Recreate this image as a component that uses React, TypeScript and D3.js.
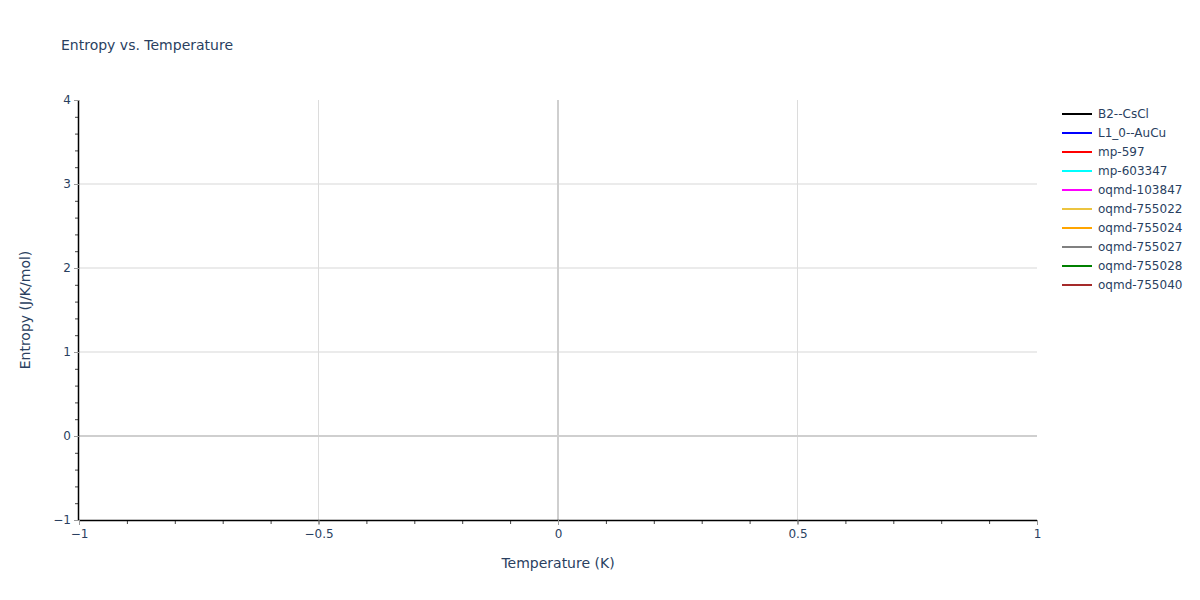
import * as d3 from "d3";
import React, { useEffect, useRef } from "react";

const seriesNames = [
  "B2--CsCl",
  "L1_0--AuCu",
  "mp-597",
  "mp-603347",
  "oqmd-103847",
  "oqmd-755022",
  "oqmd-755024",
  "oqmd-755027",
  "oqmd-755028",
  "oqmd-755040",
];
const seriesColors = [
  "black",
  "blue",
  "red",
  "cyan",
  "magenta",
  "#ecc440",
  "orange",
  "gray",
  "green",
  "brown",
];
// no points in any series: the chart is empty
const seriesPoints: [number, number][][] = seriesNames.map(() => []);

const xDomain: [number, number] = [-1, 1];
const yDomain: [number, number] = [-1, 4];
const xTicks = [-1, -0.5, 0, 0.5, 1];
const yTicks = [-1, 0, 1, 2, 3, 4];
const xMinor = d3.range(-10, 11).map((i) => i / 10);
const yMinor = d3.range(-5, 21).map((i) => i / 5);

const FONT = "'DejaVu Sans', verdana, sans-serif";
const TEXT = "#2a3f5f";

const App: React.FC = () => {
  const svgRef = useRef<SVGSVGElement>(null);
  const width = 1200;
  const height = 600;
  const margin = { top: 100, right: 163, bottom: 80, left: 79 };

  useEffect(() => {
    const svg = d3.select(svgRef.current);
    svg.selectAll("*").remove();

    const innerW = width - margin.left - margin.right;
    const innerH = height - margin.top - margin.bottom;

    const x = d3.scaleLinear().domain(xDomain).range([0, innerW]);
    const y = d3.scaleLinear().domain(yDomain).range([innerH, 0]);

    svg.append("rect").attr("width", width).attr("height", height).attr("fill", "white");

    const g = svg.append("g").attr("transform", `translate(${margin.left}, ${margin.top})`);

    // grid
    g.selectAll(".ygrid")
      .data(yTicks.filter((t) => t !== 0 && t !== yDomain[0] && t !== yDomain[1]))
      .enter()
      .append("line")
      .attr("x1", 0)
      .attr("x2", innerW)
      .attr("y1", (d) => y(d))
      .attr("y2", (d) => y(d))
      .attr("stroke", "#ebebeb")
      .attr("stroke-width", 2);

    g.selectAll(".xgrid")
      .data(xTicks.filter((t) => t !== 0 && t !== xDomain[0] && t !== xDomain[1]))
      .enter()
      .append("line")
      .attr("y1", 0)
      .attr("y2", innerH)
      .attr("x1", (d) => x(d))
      .attr("x2", (d) => x(d))
      .attr("stroke", "#dcdcdc")
      .attr("stroke-width", 1);

    // zero lines
    g.append("line")
      .attr("x1", 0)
      .attr("x2", innerW)
      .attr("y1", y(0))
      .attr("y2", y(0))
      .attr("stroke", "#cfcfcf")
      .attr("stroke-width", 2);
    g.append("line")
      .attr("y1", 0)
      .attr("y2", innerH)
      .attr("x1", x(0))
      .attr("x2", x(0))
      .attr("stroke", "#cfcfcf")
      .attr("stroke-width", 2);

    // series lines (empty)
    const line = d3
      .line<[number, number]>()
      .x((d) => x(d[0]))
      .y((d) => y(d[1]));
    seriesPoints.forEach((pts, i) => {
      if (pts.length === 0) return;
      g.append("path").attr("d", line(pts)).attr("fill", "none").attr("stroke", seriesColors[i]).attr("stroke-width", 2);
    });

    // minor ticks
    const xAxisMinor = d3.axisBottom(x).tickValues(xMinor).tickSize(4).tickFormat(() => "");
    const xm = g.append("g").attr("transform", `translate(0, ${innerH})`).call(xAxisMinor);
    xm.select(".domain").remove();
    xm.selectAll("line").attr("stroke", "#444");

    const yAxisMinor = d3.axisLeft(y).tickValues(yMinor).tickSize(4).tickFormat(() => "");
    const ym = g.append("g").call(yAxisMinor);
    ym.select(".domain").remove();
    ym.selectAll("line").attr("stroke", "#444");

    // major ticks
    const fmt = (d: d3.NumberValue) => String(+d).replace("-", "\u2212");
    const xAxis = d3.axisBottom(x).tickValues(xTicks).tickSize(5).tickPadding(4).tickFormat(fmt);
    const xa = g.append("g").attr("transform", `translate(0, ${innerH})`).call(xAxis);
    xa.select(".domain").attr("stroke", "black").attr("stroke-width", 1.5).attr("d", `M0,0.5H${innerW}`);
    xa.selectAll("line").attr("stroke", "#999");
    xa.selectAll("text").attr("fill", TEXT).style("font-family", FONT).style("font-size", "12px");

    const yAxis = d3.axisLeft(y).tickValues(yTicks).tickSize(5).tickPadding(3).tickFormat(fmt);
    const ya = g.append("g").call(yAxis);
    ya.select(".domain").attr("stroke", "black").attr("stroke-width", 1.5).attr("d", `M-0.5,0V${innerH}`);
    ya.selectAll("line").attr("stroke", "#999");
    ya.selectAll("text").attr("fill", TEXT).style("font-family", FONT).style("font-size", "12px");

    // title and axis labels
    svg.append("text")
      .attr("x", 61)
      .attr("y", 50)
      .attr("fill", TEXT)
      .style("font-family", FONT)
      .style("font-size", "14px")
      .text("Entropy vs. Temperature");

    svg.append("text")
      .attr("x", margin.left + innerW / 2)
      .attr("y", 568)
      .attr("text-anchor", "middle")
      .attr("fill", TEXT)
      .style("font-family", FONT)
      .style("font-size", "14px")
      .text("Temperature (K)");

    svg.append("text")
      .attr("transform", `translate(30, ${margin.top + innerH / 2}) rotate(-90)`)
      .attr("text-anchor", "middle")
      .attr("fill", TEXT)
      .style("font-family", FONT)
      .style("font-size", "14px")
      .text("Entropy (J/K/mol)");

    // legend
    const legend = svg.append("g").attr("transform", "translate(1062, 114)");
    const rows = legend
      .selectAll("g")
      .data(seriesNames)
      .enter()
      .append("g")
      .attr("transform", (_, i) => `translate(0, ${i * 19})`);
    rows.append("line")
      .attr("x1", 0)
      .attr("x2", 30)
      .attr("stroke", (_, i) => seriesColors[i])
      .attr("stroke-width", 2);
    rows.append("text")
      .attr("x", 36)
      .attr("dy", "0.35em")
      .attr("fill", TEXT)
      .style("font-family", FONT)
      .style("font-size", "12px")
      .text((d) => d);
  }, []);

  return (
    <div style={{ position: "absolute", left: 0, top: 0 }}>
      <svg ref={svgRef} width={width} height={height} style={{ display: "block" }}></svg>
    </div>
  );
};

export default App;
